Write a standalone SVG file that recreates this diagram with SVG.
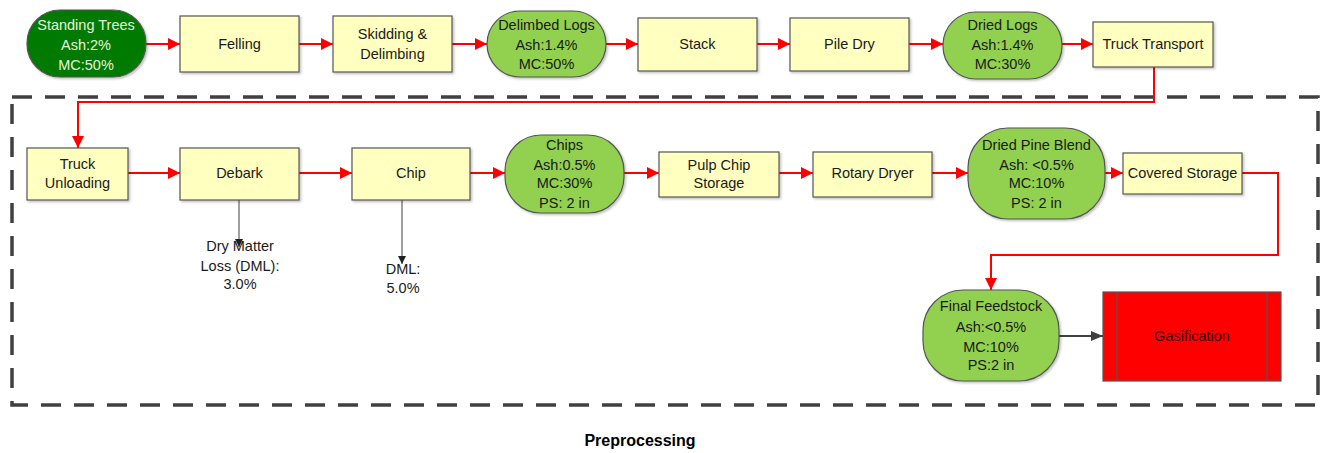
<svg xmlns="http://www.w3.org/2000/svg" width="1324" height="453" viewBox="0 0 1324 453">
<style>
.box{fill:#FFFFC0;stroke:#555555;stroke-width:1.2}
.lg{fill:#92D050;stroke:#555555;stroke-width:1.2}
.dg{fill:#007A00;stroke:#555555;stroke-width:1.2}
.gas{fill:#FF0000;stroke:#555555;stroke-width:1.2}
.t{font-family:"Liberation Sans",Arial,sans-serif;font-size:14.5px;fill:#1a1a1a;text-anchor:middle}
.tw{font-family:"Liberation Sans",Arial,sans-serif;font-size:14.5px;fill:#E6F4DC;text-anchor:middle}
.red{fill:none;stroke:#FF0000;stroke-width:2}
.gray{fill:none;stroke:#404040;stroke-width:2}
.thin{fill:none;stroke:#404040;stroke-width:1}
.frame{fill:none;stroke:#404040;stroke-width:3.5;stroke-dasharray:20 13}
.title{font-family:"Liberation Sans",Arial,sans-serif;font-size:16px;font-weight:bold;fill:#000;text-anchor:middle}
</style>
<defs>
<filter id="sh" x="-10%" y="-10%" width="130%" height="130%">
<feDropShadow dx="1.5" dy="1.5" stdDeviation="1.2" flood-color="#000" flood-opacity="0.25"/>
</filter>
<marker id="ar" markerUnits="userSpaceOnUse" markerWidth="12" markerHeight="12" viewBox="0 0 12 12" refX="12" refY="6" orient="auto">
<path d="M0,0 L12,6 L0,12 Z" fill="#FF0000"/>
</marker>
<marker id="ag" markerUnits="userSpaceOnUse" markerWidth="12" markerHeight="12" viewBox="0 0 12 12" refX="12" refY="6" orient="auto">
<path d="M0,1 L12,6 L0,11 Z" fill="#404040"/>
</marker>
<marker id="at" markerUnits="userSpaceOnUse" markerWidth="8" markerHeight="8" viewBox="0 0 8 8" refX="8" refY="4" orient="auto">
<path d="M0,0 L8,4 L0,8 Z" fill="#202020"/>
</marker>
</defs>

<rect class="frame" x="12" y="97" width="1306" height="308"/>

<g id="connectors">
<path class="red" marker-end="url(#ar)" d="M146,44 L180,44"/>
<path class="red" marker-end="url(#ar)" d="M299,44 L333,44"/>
<path class="red" marker-end="url(#ar)" d="M452,44 L487,44"/>
<path class="red" marker-end="url(#ar)" d="M606,44 L638,44"/>
<path class="red" marker-end="url(#ar)" d="M757,44 L790,44"/>
<path class="red" marker-end="url(#ar)" d="M909,44 L943,44"/>
<path class="red" marker-end="url(#ar)" d="M1062,44 L1093,44"/>
<path class="red" marker-end="url(#ar)" d="M1154,67 L1154,102 L78,102 L78,148"/>
<path class="red" marker-end="url(#ar)" d="M128,173 L180,173"/>
<path class="red" marker-end="url(#ar)" d="M299,173 L352,173"/>
<path class="red" marker-end="url(#ar)" d="M470,173 L505,173"/>
<path class="red" marker-end="url(#ar)" d="M624,173 L659,173"/>
<path class="red" marker-end="url(#ar)" d="M779,173 L813,173"/>
<path class="red" marker-end="url(#ar)" d="M932,173 L968,173"/>
<path class="red" marker-end="url(#ar)" d="M1105,173 L1123,173"/>
<path class="red" marker-end="url(#ar)" d="M1242,173 L1278,173 L1278,255 L991,255 L991,290"/>
<path class="gray" marker-end="url(#ag)" d="M1059,336 L1103,336"/>
<path class="thin" marker-end="url(#at)" d="M239,200 L239,247"/>
<path class="thin" marker-end="url(#at)" d="M402,200 L402,264"/>
</g>

<g id="standing-trees">
<rect class="dg" filter="url(#sh)" x="27" y="10" width="119" height="67" rx="33" ry="33"/>
<text class="tw" x="86" y="30">Standing Trees</text>
<text class="tw" x="86" y="50">Ash:2%</text>
<text class="tw" x="86" y="70">MC:50%</text>
</g>
<g id="felling">
<rect class="box" filter="url(#sh)" x="180" y="16" width="119" height="56"/>
<text class="t" x="239.5" y="49">Felling</text>
</g>
<g id="skidding">
<rect class="box" filter="url(#sh)" x="333" y="16" width="119" height="56"/>
<text class="t" x="392.5" y="39">Skidding &amp;</text>
<text class="t" x="392.5" y="59">Delimbing</text>
</g>
<g id="delimbed-logs">
<rect class="lg" filter="url(#sh)" x="487" y="11" width="119" height="66" rx="33" ry="33"/>
<text class="t" x="546.5" y="30">Delimbed Logs</text>
<text class="t" x="546.5" y="50">Ash:1.4%</text>
<text class="t" x="546.5" y="69">MC:50%</text>
</g>
<g id="stack">
<rect class="box" filter="url(#sh)" x="638" y="18" width="119" height="53"/>
<text class="t" x="697.5" y="49">Stack</text>
</g>
<g id="pile-dry">
<rect class="box" filter="url(#sh)" x="790" y="18" width="119" height="53"/>
<text class="t" x="849.5" y="49">Pile Dry</text>
</g>
<g id="dried-logs">
<rect class="lg" filter="url(#sh)" x="943" y="12" width="119" height="67" rx="33" ry="33"/>
<text class="t" x="1002.5" y="30">Dried Logs</text>
<text class="t" x="1002.5" y="50">Ash:1.4%</text>
<text class="t" x="1002.5" y="69">MC:30%</text>
</g>
<g id="truck-transport">
<rect class="box" filter="url(#sh)" x="1093" y="22" width="120" height="45"/>
<text class="t" x="1153" y="49">Truck Transport</text>
</g>

<g id="truck-unloading">
<rect class="box" filter="url(#sh)" x="27" y="148" width="101" height="52"/>
<text class="t" x="77.5" y="169">Truck</text>
<text class="t" x="77.5" y="188">Unloading</text>
</g>
<g id="debark">
<rect class="box" filter="url(#sh)" x="180" y="148" width="119" height="52"/>
<text class="t" x="239.5" y="178">Debark</text>
</g>
<g id="chip">
<rect class="box" filter="url(#sh)" x="352" y="148" width="118" height="52"/>
<text class="t" x="411" y="178">Chip</text>
</g>
<g id="chips">
<rect class="lg" filter="url(#sh)" x="505" y="135" width="119" height="78" rx="36" ry="36"/>
<text class="t" x="564.5" y="150">Chips</text>
<text class="t" x="564.5" y="170">Ash:0.5%</text>
<text class="t" x="564.5" y="188">MC:30%</text>
<text class="t" x="564.5" y="208">PS: 2 in</text>
</g>
<g id="pulp-chip-storage">
<rect class="box" filter="url(#sh)" x="659" y="152" width="120" height="45"/>
<text class="t" x="719" y="170">Pulp Chip</text>
<text class="t" x="719" y="188">Storage</text>
</g>
<g id="rotary-dryer">
<rect class="box" filter="url(#sh)" x="813" y="152" width="119" height="45"/>
<text class="t" x="872.5" y="178">Rotary Dryer</text>
</g>
<g id="dried-pine-blend">
<rect class="lg" filter="url(#sh)" x="968" y="128" width="137" height="91" rx="40" ry="40"/>
<text class="t" x="1036.5" y="150">Dried Pine Blend</text>
<text class="t" x="1036.5" y="170">Ash: &lt;0.5%</text>
<text class="t" x="1036.5" y="188">MC:10%</text>
<text class="t" x="1036.5" y="208">PS: 2 in</text>
</g>
<g id="covered-storage">
<rect class="box" filter="url(#sh)" x="1123" y="153" width="119" height="41"/>
<text class="t" x="1182.5" y="178">Covered Storage</text>
</g>
<g id="final-feedstock">
<rect class="lg" filter="url(#sh)" x="923" y="290" width="136" height="91" rx="40" ry="40"/>
<text class="t" x="991" y="311">Final Feedstock</text>
<text class="t" x="991" y="332">Ash:&lt;0.5%</text>
<text class="t" x="991" y="352">MC:10%</text>
<text class="t" x="991" y="370">PS:2 in</text>
</g>
<g id="gasification">
<rect class="gas" x="1103" y="292" width="178" height="89"/>
<line x1="1117" y1="292" x2="1117" y2="381" stroke="#555555" stroke-width="1.2"/>
<line x1="1267" y1="292" x2="1267" y2="381" stroke="#555555" stroke-width="1.2"/>
<text class="t" x="1192" y="341" style="fill:#3a0000">Gasification</text>
</g>

<g id="dml-debark">
<text class="t" x="240" y="251">Dry Matter</text>
<text class="t" x="240" y="271">Loss (DML):</text>
<text class="t" x="240" y="289">3.0%</text>
</g>
<g id="dml-chip">
<text class="t" x="403" y="274">DML:</text>
<text class="t" x="403" y="293">5.0%</text>
</g>

<text class="title" x="640" y="446">Preprocessing</text>
</svg>
